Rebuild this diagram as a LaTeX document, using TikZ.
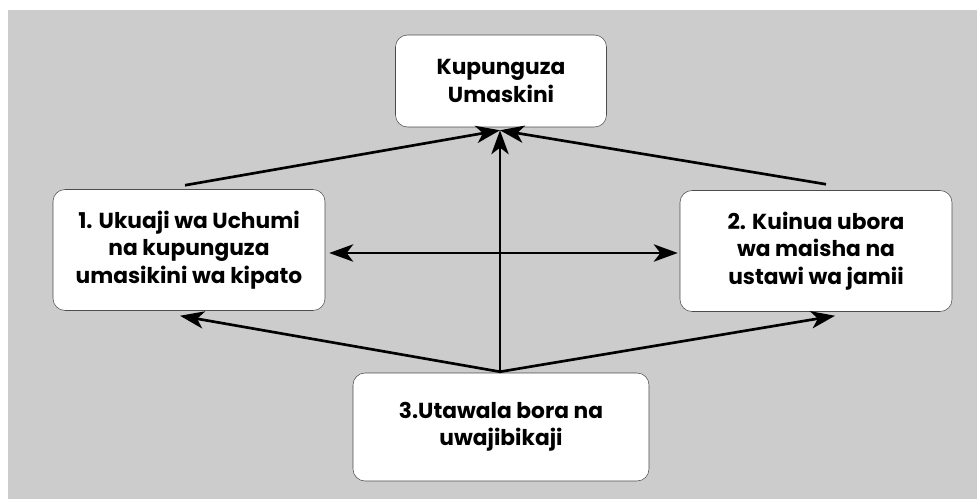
\documentclass[tikz,border=0pt]{standalone}
\usepackage{fontspec}
\setmainfont{Poppins}
\usepackage{xcolor}
\usepackage{tikz}
\usetikzlibrary{arrows.meta,calc}
\definecolor{bggray}{HTML}{CCCCCC}

\begin{document}
\begin{tikzpicture}[x=0.75pt,y=-0.75pt,
  goalbox/.style={draw=gray!60!black, fill=white, rounded corners=9pt, align=center,
                  font=\fontsize{16.3}{20.5}\selectfont\bfseries, inner sep=0pt},
  link/.style={line width=2pt, -{Stealth[length=18pt,width=13pt,inset=5pt]}}]
\useasboundingbox (0,0) rectangle (977,499);
\fill[bggray] (8,10) rectangle (977,499);

\node[goalbox, minimum width=211*0.75pt, minimum height=92*0.75pt] (top) at (501,81) {Kupunguza\\Umaskini};
\node[goalbox, minimum width=272*0.75pt, minimum height=121*0.75pt] (left) at (189,250) {1. Ukuaji wa Uchumi\\na kupunguza\\umasikini wa kipato};
\node[goalbox, minimum width=272*0.75pt, minimum height=121*0.75pt] (right) at (816,251) {2. Kuinua ubora\\wa maisha na\\ustawi wa jamii};
\node[goalbox, minimum width=296*0.75pt, minimum height=108*0.75pt] (bottom) at (501,427) {3.Utawala bora na\\uwajibikaji};

\coordinate (goal) at ($(top.south)+(-1,3)$);
\coordinate (base) at ($(bottom.north)+(-1,-1)$);

\draw[link] ($(left.north)+(-4,-4)$) -- (goal);
\draw[link] ($(right.north)+(10,-6)$) -- (goal);
\draw[link] (base) -- (goal);
\draw[link, {Stealth[length=18pt,width=13pt,inset=5pt]}-{Stealth[length=18pt,width=13pt,inset=5pt]}]
  ($(left.east)+(4,3)$) -- ($(right.west)+(-2,2)$);
\draw[link] (base) -- ($(left.south)+(-9,5)$);
\draw[link] (base) -- ($(right.south)+(19,4)$);
\end{tikzpicture}
\end{document}
